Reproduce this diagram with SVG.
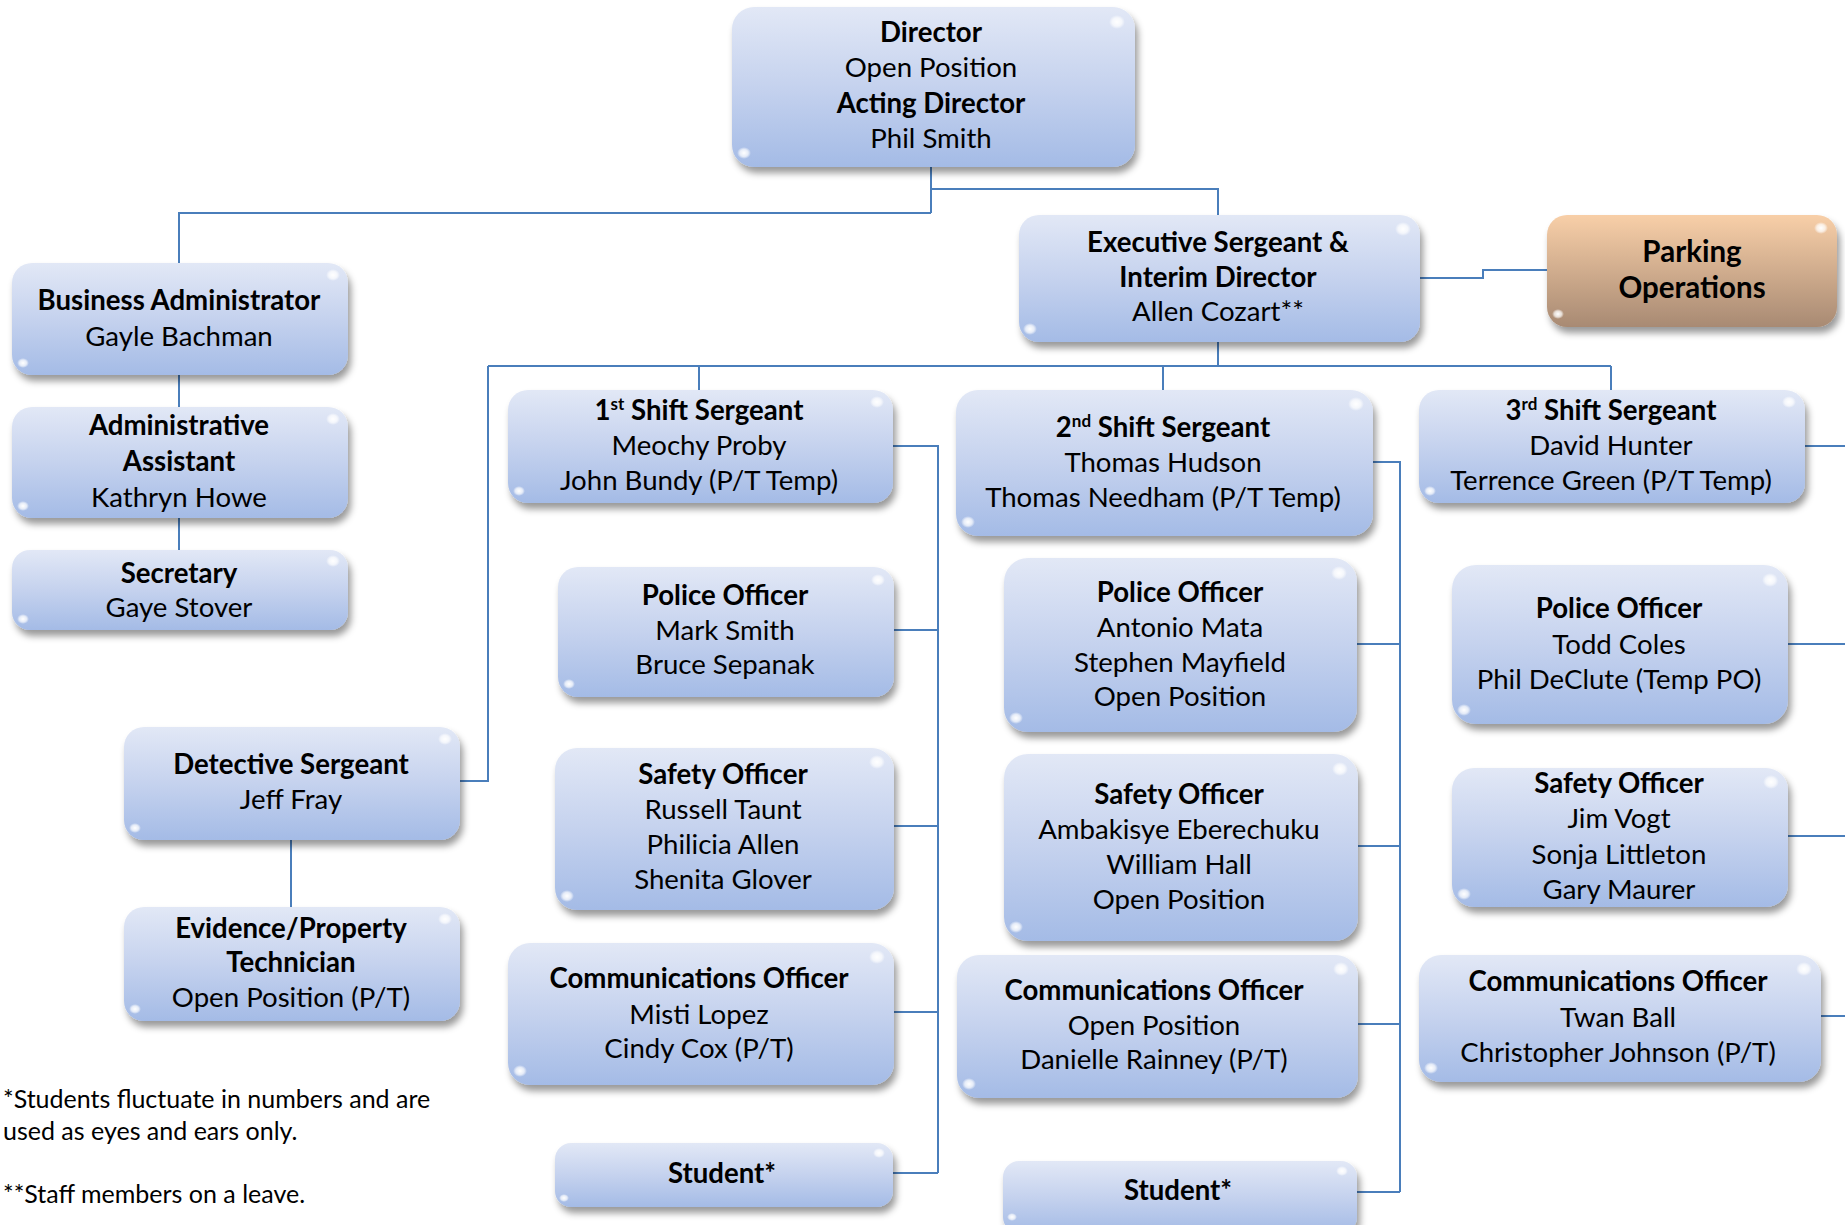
<svg xmlns="http://www.w3.org/2000/svg" width="1845" height="1225" viewBox="0 0 1845 1225">
<defs>
<linearGradient id="gBlue" x1="0" y1="0" x2="0" y2="1">
<stop offset="0" stop-color="#e2e8f6"/>
<stop offset="0.5" stop-color="#c5d2ee"/>
<stop offset="1" stop-color="#a4bbe6"/>
</linearGradient>
<linearGradient id="gTan" x1="0" y1="0" x2="0" y2="1">
<stop offset="0" stop-color="#f8cfa8"/>
<stop offset="1" stop-color="#a88a73"/>
</linearGradient>
<radialGradient id="gGlint">
<stop offset="0" stop-color="#fff" stop-opacity="1"/>
<stop offset="0.6" stop-color="#fff" stop-opacity="0.7"/>
<stop offset="1" stop-color="#fff" stop-opacity="0"/>
</radialGradient>
<filter id="sh" x="-10%" y="-10%" width="125%" height="140%">
<feDropShadow dx="3" dy="6" stdDeviation="3.5" flood-color="#000" flood-opacity="0.4"/>
</filter>
</defs>
<style>
.box{fill:url(#gBlue);filter:url(#sh)}
.tan{fill:url(#gTan);filter:url(#sh)}
.gl{fill:url(#gGlint)}
.t{font-family:Lato,"Liberation Sans",sans-serif;font-size:27.6px;fill:#000;text-anchor:middle}
.b{font-weight:bold}
.big{font-size:29.5px}
.sup{font-size:17px}
.c{fill:none;stroke:#4a7ebb;stroke-width:2}
.note{font-family:Lato,"Liberation Sans",sans-serif;font-size:25px;fill:#000}
</style>
<rect width="1845" height="1225" fill="#fff"/>

<g id="connectors">
<path class="c" d="M931 167V213M931 189H1218V215M931 213H179V263"/>
<path class="c" d="M179 375V407M179 518V550"/>
<path class="c" d="M1420 278H1483V270H1547"/>
<path class="c" d="M1218 342V366M488 366H1611M699 366V390M1163 366V390M1611 366V390"/>
<path class="c" d="M488 366V781H460M291 840V907"/>
<path class="c" d="M893 446H938V1173M894 630H938M894 826H938M894 1012H938M893 1173H938"/>
<path class="c" d="M1373 462H1400V1192M1357 644H1400M1358 846H1400M1358 1024H1400M1357 1192H1400"/>
<path class="c" d="M1805 446H1845M1788 644H1845M1788 836H1845M1821 1016H1845"/>
</g>

<g id="director">
<rect class="box" x="732" y="7" width="403" height="160" rx="22"/>
<ellipse class="gl" cx="1117" cy="22" rx="8" ry="7"/><ellipse class="gl" cx="744" cy="153" rx="7" ry="6"/>
<text class="t b" x="931" y="42">Director</text>
<text class="t" x="931" y="77">Open Position</text>
<text class="t b" x="931" y="113">Acting Director</text>
<text class="t" x="931" y="148">Phil Smith</text>
</g>

<g id="exec-sergeant">
<rect class="box" x="1019" y="215" width="401" height="127" rx="20"/>
<ellipse class="gl" cx="1403" cy="229" rx="8" ry="7"/><ellipse class="gl" cx="1030" cy="329" rx="7" ry="6"/>
<text class="t b" x="1218" y="252">Executive Sergeant &amp;</text>
<text class="t b" x="1218" y="287">Interim Director</text>
<text class="t" x="1218" y="321">Allen Cozart**</text>
</g>

<g id="parking">
<rect class="tan" x="1547" y="215" width="290" height="112" rx="20"/>
<ellipse class="gl" cx="1821" cy="228" rx="7" ry="6"/><ellipse class="gl" cx="1558" cy="314" rx="6" ry="5"/>
<text class="t b big" x="1692" y="262">Parking</text>
<text class="t b big" x="1692" y="298">Operations</text>
</g>

<g id="business-admin">
<rect class="box" x="12" y="263" width="336" height="112" rx="20"/>
<ellipse class="gl" cx="333" cy="275" rx="7" ry="6"/><ellipse class="gl" cx="23" cy="363" rx="6" ry="5"/>
<text class="t b" x="179" y="310">Business Administrator</text>
<text class="t" x="179" y="346">Gayle Bachman</text>
</g>

<g id="admin-assistant">
<rect class="box" x="12" y="407" width="336" height="111" rx="20"/>
<ellipse class="gl" cx="333" cy="419" rx="7" ry="6"/><ellipse class="gl" cx="23" cy="506" rx="6" ry="5"/>
<text class="t b" x="179" y="435">Administrative</text>
<text class="t b" x="179" y="471">Assistant</text>
<text class="t" x="179" y="507">Kathryn Howe</text>
</g>

<g id="secretary">
<rect class="box" x="12" y="550" width="336" height="80" rx="18"/>
<ellipse class="gl" cx="333" cy="561" rx="7" ry="6"/><ellipse class="gl" cx="23" cy="619" rx="6" ry="5"/>
<text class="t b" x="179" y="583">Secretary</text>
<text class="t" x="179" y="617">Gaye Stover</text>
</g>

<g id="detective-sergeant">
<rect class="box" x="124" y="727" width="336" height="113" rx="20"/>
<ellipse class="gl" cx="445" cy="739" rx="7" ry="6"/><ellipse class="gl" cx="135" cy="828" rx="6" ry="5"/>
<text class="t b" x="291" y="774">Detective Sergeant</text>
<text class="t" x="291" y="809">Jeff Fray</text>
</g>

<g id="evidence-technician">
<rect class="box" x="124" y="907" width="336" height="114" rx="20"/>
<ellipse class="gl" cx="445" cy="919" rx="7" ry="6"/><ellipse class="gl" cx="135" cy="1009" rx="6" ry="5"/>
<text class="t b" x="291" y="938">Evidence/Property</text>
<text class="t b" x="291" y="972">Technician</text>
<text class="t" x="291" y="1007">Open Position (P/T)</text>
</g>

<g id="shift1-sergeant">
<rect class="box" x="508" y="390" width="385" height="113" rx="20"/>
<ellipse class="gl" cx="877" cy="402" rx="7" ry="6"/><ellipse class="gl" cx="519" cy="491" rx="6" ry="5"/>
<text class="t b" x="699" y="420">1<tspan class="sup" dy="-10">st</tspan><tspan dy="10"> Shift Sergeant</tspan></text>
<text class="t" x="699" y="455">Meochy Proby</text>
<text class="t" x="699" y="490">John Bundy (P/T Temp)</text>
</g>

<g id="shift2-sergeant">
<rect class="box" x="956" y="390" width="417" height="146" rx="22"/>
<ellipse class="gl" cx="1356" cy="404" rx="8" ry="7"/><ellipse class="gl" cx="968" cy="522" rx="7" ry="6"/>
<text class="t b" x="1163" y="437">2<tspan class="sup" dy="-10">nd</tspan><tspan dy="10"> Shift Sergeant</tspan></text>
<text class="t" x="1163" y="472">Thomas Hudson</text>
<text class="t" x="1163" y="507">Thomas Needham (P/T Temp)</text>
</g>

<g id="shift3-sergeant">
<rect class="box" x="1419" y="390" width="386" height="113" rx="20"/>
<ellipse class="gl" cx="1789" cy="402" rx="7" ry="6"/><ellipse class="gl" cx="1430" cy="491" rx="6" ry="5"/>
<text class="t b" x="1611" y="420">3<tspan class="sup" dy="-10">rd</tspan><tspan dy="10"> Shift Sergeant</tspan></text>
<text class="t" x="1611" y="455">David Hunter</text>
<text class="t" x="1611" y="490">Terrence Green (P/T Temp)</text>
</g>

<g id="police-officer-1">
<rect class="box" x="558" y="567" width="336" height="130" rx="20"/>
<ellipse class="gl" cx="878" cy="580" rx="7" ry="6"/><ellipse class="gl" cx="569" cy="684" rx="6" ry="5"/>
<text class="t b" x="725" y="605">Police Officer</text>
<text class="t" x="725" y="640">Mark Smith</text>
<text class="t" x="725" y="674">Bruce Sepanak</text>
</g>

<g id="safety-officer-1">
<rect class="box" x="555" y="748" width="339" height="162" rx="22"/>
<ellipse class="gl" cx="877" cy="762" rx="8" ry="7"/><ellipse class="gl" cx="567" cy="896" rx="7" ry="6"/>
<text class="t b" x="723" y="784">Safety Officer</text>
<text class="t" x="723" y="819">Russell Taunt</text>
<text class="t" x="723" y="854">Philicia Allen</text>
<text class="t" x="723" y="889">Shenita Glover</text>
</g>

<g id="comm-officer-1">
<rect class="box" x="508" y="943" width="386" height="142" rx="22"/>
<ellipse class="gl" cx="877" cy="957" rx="8" ry="7"/><ellipse class="gl" cx="520" cy="1071" rx="7" ry="6"/>
<text class="t b" x="699" y="988">Communications Officer</text>
<text class="t" x="699" y="1024">Misti Lopez</text>
<text class="t" x="699" y="1058">Cindy Cox (P/T)</text>
</g>

<g id="student-1">
<rect class="box" x="555" y="1143" width="338" height="64" rx="16"/>
<ellipse class="gl" cx="879" cy="1153" rx="6" ry="5"/><ellipse class="gl" cx="564" cy="1198" rx="5" ry="4"/>
<text class="t b" x="722" y="1183">Student*</text>
</g>

<g id="police-officer-2">
<rect class="box" x="1004" y="558" width="353" height="174" rx="24"/>
<ellipse class="gl" cx="1339" cy="573" rx="8" ry="7"/><ellipse class="gl" cx="1016" cy="718" rx="7" ry="6"/>
<text class="t b" x="1180" y="602">Police Officer</text>
<text class="t" x="1180" y="637">Antonio Mata</text>
<text class="t" x="1180" y="672">Stephen Mayfield</text>
<text class="t" x="1180" y="706">Open Position</text>
</g>

<g id="safety-officer-2">
<rect class="box" x="1004" y="754" width="354" height="187" rx="24"/>
<ellipse class="gl" cx="1340" cy="769" rx="8" ry="7"/><ellipse class="gl" cx="1016" cy="927" rx="7" ry="6"/>
<text class="t b" x="1179" y="804">Safety Officer</text>
<text class="t" x="1179" y="839">Ambakisye Eberechuku</text>
<text class="t" x="1179" y="874">William Hall</text>
<text class="t" x="1179" y="909">Open Position</text>
</g>

<g id="comm-officer-2">
<rect class="box" x="957" y="955" width="401" height="143" rx="22"/>
<ellipse class="gl" cx="1341" cy="969" rx="8" ry="7"/><ellipse class="gl" cx="969" cy="1084" rx="7" ry="6"/>
<text class="t b" x="1154" y="1000">Communications Officer</text>
<text class="t" x="1154" y="1035">Open Position</text>
<text class="t" x="1154" y="1069">Danielle Rainney (P/T)</text>
</g>

<g id="student-2">
<rect class="box" x="1003" y="1161" width="354" height="72" rx="16"/>
<ellipse class="gl" cx="1342" cy="1171" rx="6" ry="5"/><ellipse class="gl" cx="1012" cy="1217" rx="5" ry="4"/>
<text class="t b" x="1178" y="1200">Student*</text>
</g>

<g id="police-officer-3">
<rect class="box" x="1452" y="565" width="336" height="159" rx="24"/>
<ellipse class="gl" cx="1770" cy="580" rx="8" ry="7"/><ellipse class="gl" cx="1464" cy="710" rx="7" ry="6"/>
<text class="t b" x="1619" y="618">Police Officer</text>
<text class="t" x="1619" y="654">Todd Coles</text>
<text class="t" x="1619" y="689">Phil DeClute (Temp PO)</text>
</g>

<g id="safety-officer-3">
<rect class="box" x="1452" y="768" width="336" height="139" rx="22"/>
<ellipse class="gl" cx="1771" cy="782" rx="8" ry="7"/><ellipse class="gl" cx="1464" cy="894" rx="7" ry="6"/>
<text class="t b" x="1619" y="793">Safety Officer</text>
<text class="t" x="1619" y="828">Jim Vogt</text>
<text class="t" x="1619" y="864">Sonja Littleton</text>
<text class="t" x="1619" y="899">Gary Maurer</text>
</g>

<g id="comm-officer-3">
<rect class="box" x="1419" y="955" width="402" height="127" rx="22"/>
<ellipse class="gl" cx="1804" cy="969" rx="8" ry="7"/><ellipse class="gl" cx="1431" cy="1068" rx="7" ry="6"/>
<text class="t b" x="1618" y="991">Communications Officer</text>
<text class="t" x="1618" y="1027">Twan Ball</text>
<text class="t" x="1618" y="1062">Christopher Johnson (P/T)</text>
</g>

<g id="footnotes">
<text class="note" x="3" y="1108">*Students fluctuate in numbers and are</text>
<text class="note" x="3" y="1140">used as eyes and ears only.</text>
<text class="note" x="3" y="1203">**Staff members on a leave.</text>
</g>
</svg>
